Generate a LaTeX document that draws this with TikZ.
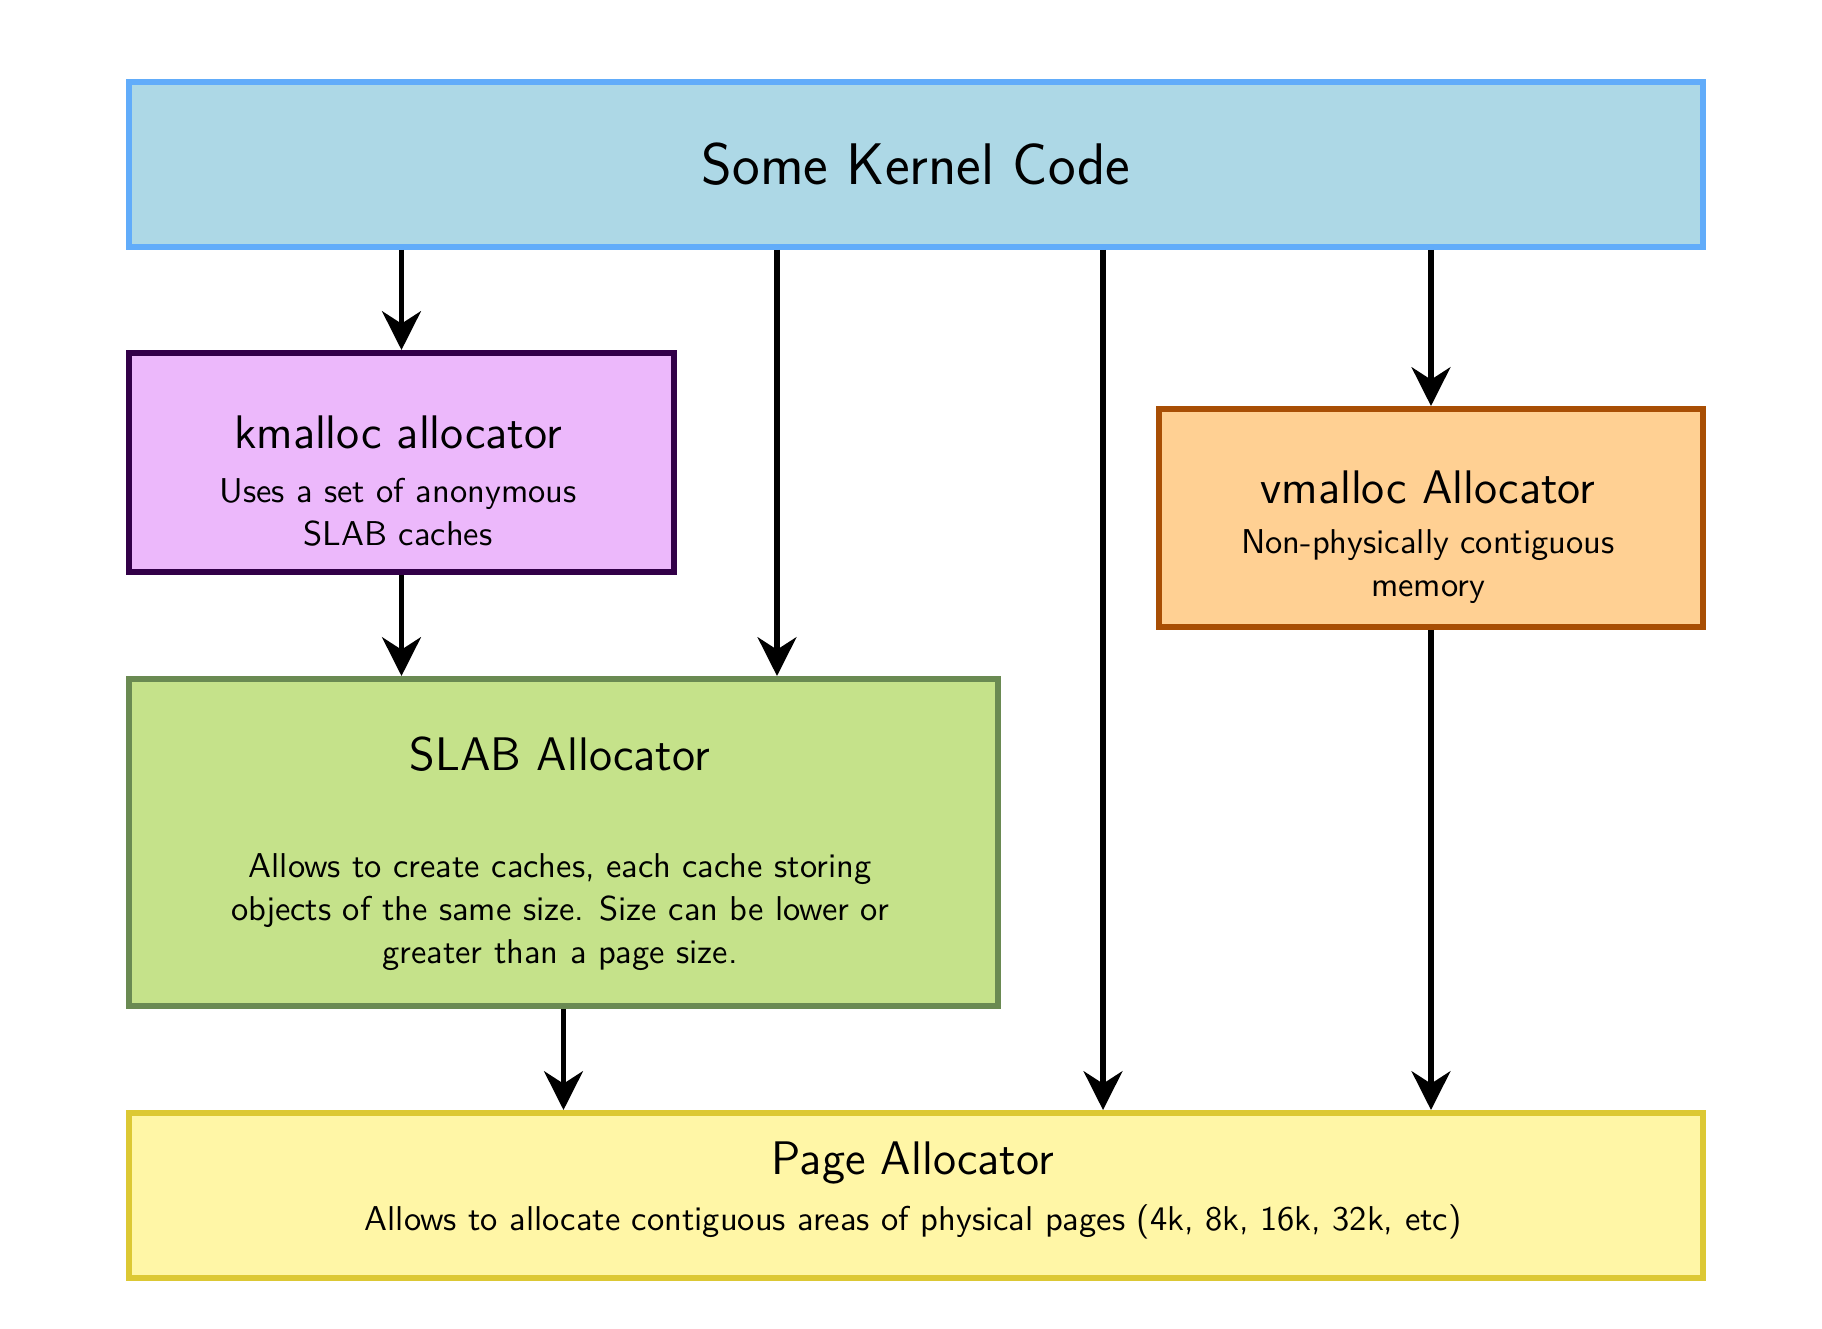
\documentclass[tikz,border=0pt]{standalone}
\usepackage{tikz}
\usetikzlibrary{arrows.meta,positioning,calc}
\usepackage{xcolor}
\renewcommand{\familydefault}{\sfdefault}

\definecolor{codefill}{RGB}{173,216,230}
\definecolor{codeline}{RGB}{97,172,250}
\definecolor{kmfill}{RGB}{236,184,251}
\definecolor{kmline}{RGB}{50,0,72}
\definecolor{slabfill}{RGB}{197,226,138}
\definecolor{slabline}{RGB}{106,138,82}
\definecolor{vmfill}{RGB}{255,208,147}
\definecolor{vmline}{RGB}{168,78,4}
\definecolor{pagefill}{RGB}{255,246,166}
\definecolor{pageline}{RGB}{220,200,52}

\begin{document}
\begin{tikzpicture}[
    box/.style={draw, line width=1.7pt, inner sep=0pt, anchor=north west},
    flow/.style={-{Stealth[length=11pt,width=11pt,inset=3.5pt]}, line width=1.7pt},
    title/.style={font=\fontsize{13.4}{16}\selectfont},
    desc/.style={font=\fontsize{9.8}{12.2}\selectfont, align=center}
]
    \useasboundingbox (0,0) rectangle (18.22,-13.28);

    % Boxes (top to bottom)
    \node[box, fill=codefill, draw=codeline, minimum width=15.74cm, minimum height=1.65cm] (kcode) at (1.26,-0.79) {};
    \node[box, fill=kmfill, draw=kmline, minimum width=5.45cm, minimum height=2.19cm] (kmalloc) at (1.26,-3.50) {};
    \node[box, fill=vmfill, draw=vmline, minimum width=5.44cm, minimum height=2.18cm] (vmalloc) at (11.56,-4.06) {};
    \node[box, fill=slabfill, draw=slabline, minimum width=8.69cm, minimum height=3.27cm] (slab) at (1.26,-6.76) {};
    \node[box, fill=pagefill, draw=pageline, minimum width=15.74cm, minimum height=1.65cm] (page) at (1.26,-11.10) {};

    % Texts
    \node[font=\fontsize{16.7}{20}\selectfont] (kcode-t) at (kcode.center) {Some Kernel Code};

    \node[title] (kmalloc-t) at (3.98,-4.32) {kmalloc allocator};
    \node[desc] (kmalloc-d) at (3.98,-5.12) {Uses a set of anonymous\\SLAB caches};

    \node[title] (vmalloc-t) at (14.28,-4.87) {vmalloc Allocator};
    \node[desc] (vmalloc-d) at (14.28,-5.67) {Non-physically contiguous\\memory};

    \node[title] (slab-t) at (5.60,-7.54) {SLAB Allocator};
    \node[desc] (slab-d) at (5.60,-9.12) {Allows to create caches, each cache storing\\objects of the same size. Size can be lower or\\greater than a page size.};

    \node[title] (page-t) at (9.13,-11.63) {Page Allocator};
    \node[desc] (page-d) at (9.13,-12.22) {Allows to allocate contiguous areas of physical pages (4k, 8k, 16k, 32k, etc)};

    % Arrows
    \coordinate (slab-in) at (7.77,-6.76);
    \coordinate (page-in) at (11.03,-11.10);

    \draw[flow] (kcode.south -| kmalloc.north) -- (kmalloc.north);
    \draw[flow] (kcode.south -| slab-in) -- (slab-in);
    \draw[flow] (kcode.south -| page-in) -- (page-in);
    \draw[flow] (kcode.south -| vmalloc.north) -- (vmalloc.north);
    \draw[flow] (kmalloc.south) -- (kmalloc.south |- slab.north);
    \draw[flow] (slab.south) -- (slab.south |- page.north);
    \draw[flow] (vmalloc.south) -- (vmalloc.south |- page.north);
\end{tikzpicture}
\end{document}
